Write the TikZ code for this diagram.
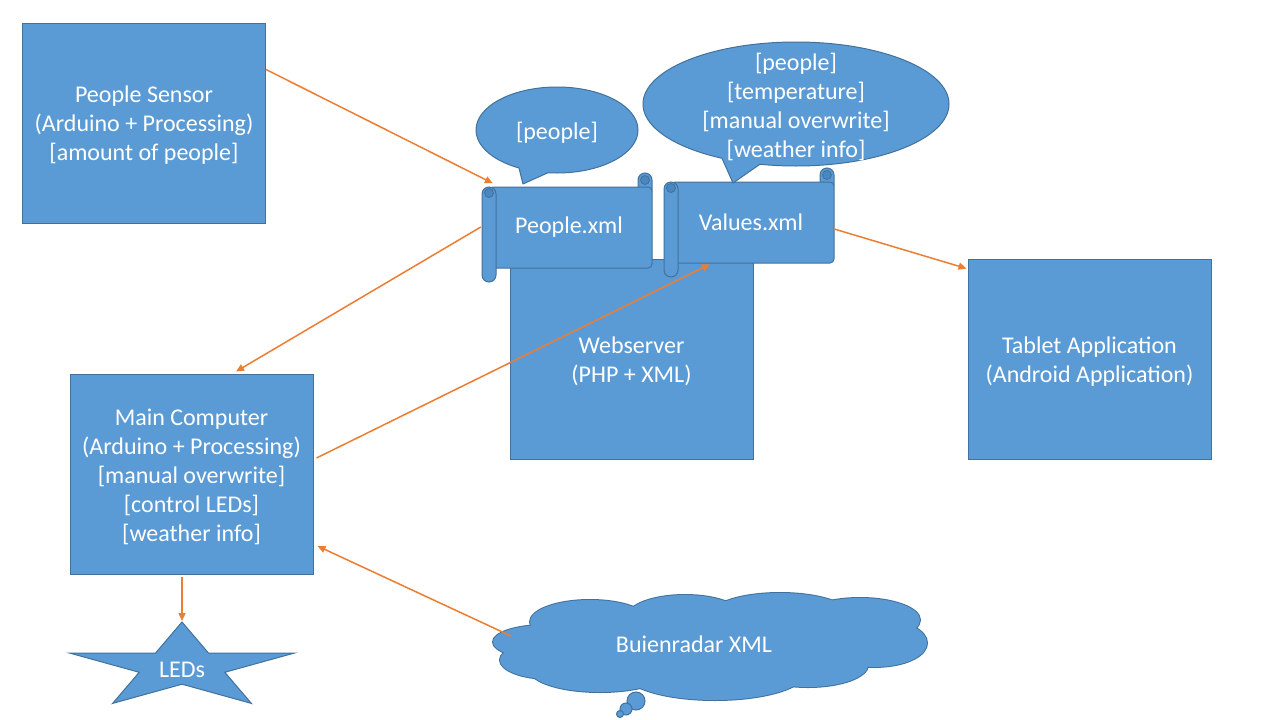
\documentclass[tikz,border=0pt]{standalone}
\usepackage{fontspec}
\setmainfont{Carlito}
\usetikzlibrary{arrows.meta}
\definecolor{fillb}{HTML}{5B9BD5}
\definecolor{lineb}{HTML}{41719C}
\definecolor{darkb}{HTML}{4A86C0}
\definecolor{arr}{HTML}{ED7D31}
\tikzset{
  box/.style={rectangle,draw=lineb,fill=fillb,line width=1pt,inner sep=0pt,
    minimum width=243pt,minimum height=200pt},
  lbl/.style={text=white,align=center,inner sep=0pt,yshift=-2.5pt,font=\fontsize{24}{29}\selectfont},
  shp/.style={draw=lineb,fill=fillb,line width=1pt},
  curl/.style={draw=lineb,fill=darkb,line width=0.8pt},
  conn/.style={draw=arr,line width=1.5pt,-{Triangle[length=8pt,width=7pt]}},
  scrollpic/.pic={
    \path[shp,rounded corners=7pt] (156,10) -- (156,-14) -- (170,-14) -- (170,10) -- cycle;
    \path[shp,rounded corners=4pt] (7,0) rectangle (170,81);
    \path[shp,rounded corners=7pt] (0,0) rectangle (14,95);
    \path[curl] (7,6) circle[radius=4.5];
    \path[curl] (163,-7) circle[radius=4.5];
  }
}
\begin{document}
\begin{tikzpicture}[x=1pt,y=-1pt]
\fill[white] (0,0) rectangle (1280,720);
\useasboundingbox (0,0) rectangle (1280,720);

% boxes
\node[box] (sensor) at (144,123) {};
\node[lbl] (sensorlbl) at (sensor.center) {People Sensor\\(Arduino + Processing)\\{[amount of people]}};
\node[box] (main) at (191.5,474) {};
\node[lbl] (mainlbl) at (main.center) {Main Computer\\(Arduino + Processing)\\{[manual overwrite]}\\{[control LEDs]}\\{[weather info]}};
\node[box] (web) at (631.5,359) {};
\node[lbl] (weblbl) at (web.center) {Webserver\\(PHP + XML)};
\node[box] (tablet) at (1089.5,359) {};
\node[lbl] (tabletlbl) at (tablet.center) {Tablet Application\\(Android Application)};

% scrolls
\pic at (482,187) {scrollpic};
\pic at (664,182) {scrollpic};
\node[lbl,minimum width=157pt,minimum height=81pt] (pxml) at (569,224.5) {People.xml};
\node[lbl,minimum width=157pt,minimum height=81pt] (vxml) at (751,219.5) {Values.xml};

% callouts
\path[shp] (557,130) ellipse[x radius=81,y radius=43];
\fill[fillb] (519,168) -- (523,184) -- (548,172.7) -- (540,160) -- (525,160) -- cycle;
\draw[lineb,line width=1pt,line join=round] (519,168) -- (523,184) -- (548,172.7);
\node[lbl] (c1) at (557,130) {[people]};

\path[shp] (796,104) ellipse[x radius=153,y radius=62];
\fill[fillb] (722,158.3) -- (733,183) -- (760,164.2) -- (755,150) -- (725,150) -- cycle;
\draw[lineb,line width=1pt,line join=round] (722,158.3) -- (733,183) -- (760,164.2);
\node[lbl] (c2) at (796,104.5) {[people]\\{[temperature]}\\{[manual overwrite]}\\{[weather info]}};

% star
\path[shp,line join=miter] (182,622) -- (155.5,653.1) -- (69.8,653.1) -- (139.2,672.3) -- (112.6,703.4)
  -- (182,684.2) -- (251.4,703.4) -- (224.8,672.3) -- (294.2,653.1) -- (208.5,653.1) -- cycle;
\node[lbl] (led) at (182,667) {LEDs};
\coordinate (ledtop) at (182,621);

% cloud
\foreach \cx/\cy/\rx/\ry in {545/642/52/17,590/622/60/22,685/617/58/22,780/614/68/21,
  860/620/60/22,885/643/42/22,873/652/45/15,808/665/60/22,715/673/90/27,600/670/70/22,
  550/660/50/19,710/643/190/35}
  \draw[lineb,line width=2pt] (\cx,\cy) ellipse[x radius=\rx,y radius=\ry];
\foreach \cx/\cy/\rx/\ry in {545/642/52/17,590/622/60/22,685/617/58/22,780/614/68/21,
  860/620/60/22,885/643/42/22,873/652/45/15,808/665/60/22,715/673/90/27,600/670/70/22,
  550/660/50/19,710/643/190/35}
  \fill[fillb] (\cx,\cy) ellipse[x radius=\rx,y radius=\ry];
\path[shp] (636,701) circle[radius=9];
\path[shp] (626,709) circle[radius=6];
\path[shp] (620,714) circle[radius=3.5];
\node[lbl] (cloud) at (694,642) {Buienradar XML};
\coordinate (cloudw) at (511,636);

% connectors
\draw[conn] ([yshift=-47pt]sensor.north east) -- ([shift={(2.5pt,3pt)}]pxml.north west);
\draw[conn] ([xshift=-9.5pt]pxml.west) -- ([shift={(44.5pt,2pt)}]main.north);
\draw[conn] ([shift={(3pt,16pt)}]main.east) -- ([shift={(-41pt,-1.5pt)}]vxml.south);
\draw[conn] ([shift={(4.5pt,-7pt)}]vxml.east) -- ([shift={(-1pt,-10pt)}]tablet.north west);
\draw[conn] ([shift={(-9.5pt,-2pt)}]main.south) -- (ledtop);
\draw[conn] (cloudw) -- ([shift={(4pt,-72pt)}]main.east);
\end{tikzpicture}
\end{document}
